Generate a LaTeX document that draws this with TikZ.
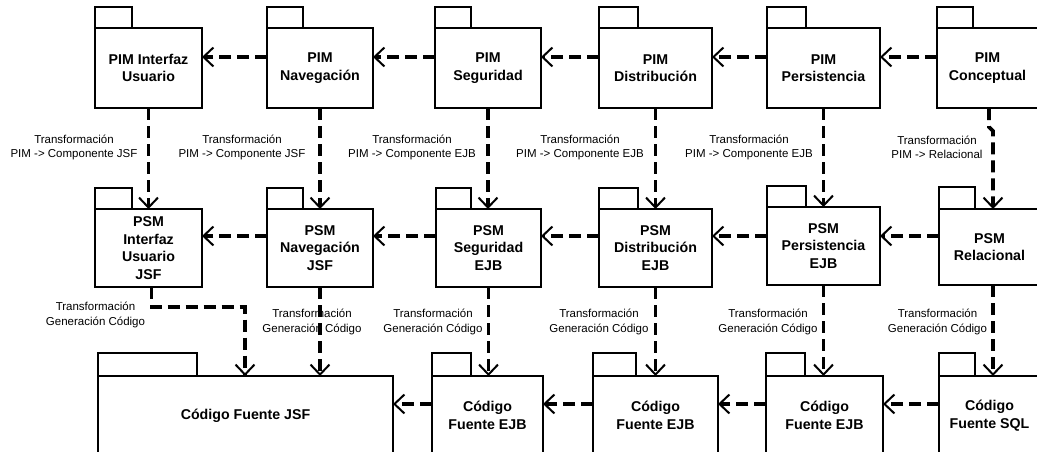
\documentclass[tikz,border=0pt]{standalone}
\usepackage{fontspec}
\setmainfont{Liberation Sans}
\usetikzlibrary{arrows.meta}
\newcommand{\pkgbox}[8]{%
  \pgfmathsetmacro{\pkX}{(#2+#4)/2}%
  \pgfmathsetmacro{\pkY}{(#3+#5)/2}%
  \pgfmathsetmacro{\pkW}{#4-#2}%
  \pgfmathsetmacro{\pkH}{#5-#3}%
  \node[pkg, minimum width=\pkW pt, minimum height=\pkH pt] (#1) at (\pkX,\pkY) {#8};%
  \draw[pkgline] (#1.north west) rectangle ++(#6,-#7);%
}
\begin{document}
\begin{tikzpicture}[x=1pt,y=-1pt,
  pkg/.style={draw=black, line width=1.6pt, inner sep=0pt, outer sep=0pt,
    align=center, font=\bfseries\fontsize{14.2}{17.5}\selectfont},
  pkgline/.style={draw=black, line width=1.6pt},
  dep/.style={line width=3.8pt, dash pattern=on 12pt off 6pt,
    -{Straight Barb[length=10pt,width=19pt,line width=2pt]}},
  lbl/.style={align=center, inner sep=0pt, font=\fontsize{11.5}{14.5}\selectfont}]
\useasboundingbox (0,0) rectangle (1037,452);
\fill[white] (0,0) rectangle (1037,452);
\clip (0,0) rectangle (1037,452);
\coordinate (r1) at (0,57);
\coordinate (r2) at (0,236);
\coordinate (r3) at (0,404);
\coordinate (cA) at (245,0);
\coordinate (c6) at (993,0);
% row 1
\pkgbox{pim1}{95}{28}{202}{108}{37}{21}{PIM Interfaz\\Usuario}
\pkgbox{pim2}{267}{28}{373}{108}{36}{21}{PIM\\Navegación}
\pkgbox{pim3}{435}{28}{541}{108}{36}{21}{PIM\\Seguridad}
\pkgbox{pim4}{599}{28}{712}{108}{39}{21}{PIM\\Distribución}
\pkgbox{pim5}{767}{28}{880}{108}{39}{21}{PIM\\Persistencia}
\pkgbox{pim6}{937}{28}{1038}{108}{36}{21}{PIM\\Conceptual}
% row 2
\pkgbox{psm1}{95}{209}{202}{287}{37}{21}{PSM\\Interfaz\\Usuario\\JSF}
\pkgbox{psm2}{267}{209}{373}{287}{36}{21}{PSM\\Navegación\\JSF}
\pkgbox{psm3}{436}{209}{541}{287}{35}{21}{PSM\\Seguridad\\EJB}
\pkgbox{psm4}{599}{209}{712}{287}{39}{21}{PSM\\Distribución\\EJB}
\pkgbox{psm5}{767}{207}{880}{285}{39}{21}{PSM\\Persistencia\\EJB}
\pkgbox{psm6}{939}{209}{1040}{285}{36}{22}{PSM\\Relacional}
% row 3
\pkgbox{src1}{98}{376}{393}{455}{99}{23}{Código Fuente JSF}
\pkgbox{src2}{432}{376}{543}{455}{39}{23}{Código\\Fuente EJB}
\pkgbox{src3}{593}{376}{718}{455}{43}{23}{Código\\Fuente EJB}
\pkgbox{src4}{766}{376}{883}{455}{39}{23}{Código\\Fuente EJB}
\pkgbox{src5}{939}{376}{1040}{455}{36}{23}{Código\\Fuente SQL}
% labels
\node[lbl] (l1) at (74,147.5) {Transformación\\PIM -> Componente JSF};
\node[lbl] (l2) at (242,147.5) {Transformación\\PIM -> Componente JSF};
\node[lbl] (l3) at (412,147.5) {Transformación\\PIM -> Componente EJB};
\node[lbl] (l4) at (580,147.5) {Transformación\\PIM -> Componente EJB};
\node[lbl] (l5) at (749,147.5) {Transformación\\PIM -> Componente EJB};
\node[lbl] (l6) at (937,147.5) {Transformación\\PIM -> Relacional};
\node[lbl] (g1) at (95.5,315) {Transformación\\Generación Código};
\node[lbl] (g2) at (312,322) {Transformación\\Generación Código};
\node[lbl] (g3) at (433,322) {Transformación\\Generación Código};
\node[lbl] (g4) at (599,322) {Transformación\\Generación Código};
\node[lbl] (g5) at (768,322) {Transformación\\Generación Código};
\node[lbl] (g6) at (937.5,322) {Transformación\\Generación Código};
% horizontal dependencies
\draw[dep] (pim2.west |- r1) -- (pim1.east |- r1);
\draw[dep] (pim3.west |- r1) -- (pim2.east |- r1);
\draw[dep] (pim4.west |- r1) -- (pim3.east |- r1);
\draw[dep] (pim5.west |- r1) -- (pim4.east |- r1);
\draw[dep] (pim6.west |- r1) -- (pim5.east |- r1);
\draw[dep] (psm2.west |- r2) -- (psm1.east |- r2);
\draw[dep] (psm3.west |- r2) -- (psm2.east |- r2);
\draw[dep] (psm4.west |- r2) -- (psm3.east |- r2);
\draw[dep] (psm5.west |- r2) -- (psm4.east |- r2);
\draw[dep] (psm6.west |- r2) -- (psm5.east |- r2);
\draw[dep] (src2.west |- r3) -- (src1.east |- r3);
\draw[dep] (src3.west |- r3) -- (src2.east |- r3);
\draw[dep] (src4.west |- r3) -- (src3.east |- r3);
\draw[dep] (src5.west |- r3) -- (src4.east |- r3);
% vertical dependencies PIM -> PSM
\draw[dep] (pim1.south) -- (pim1.south |- psm1.north);
\draw[dep] (pim2.south) -- (pim2.south |- psm2.north);
\draw[dep] (pim3.south) -- (pim3.south |- psm3.north);
\draw[dep] (pim4.south) -- (pim4.south |- psm4.north);
\draw[dep] (pim5.south) -- (pim5.south |- psm5.north);
\draw[dep] ([xshift=1.5pt]pim6.south) -- ++(0,19) -- ++(4,4) -- (c6 |- psm6.north);
% vertical dependencies PSM -> code
\draw[dep] ([xshift=3pt]psm1.south) -- ++(0,20) -| (cA |- src1.north);
\draw[dep] (psm2.south) -- (psm2.south |- src1.north);
\draw[dep] (psm3.south) -- (psm3.south |- src2.north);
\draw[dep] (psm4.south) -- (psm4.south |- src3.north);
\draw[dep] (psm5.south) -- (psm5.south |- src4.north);
\draw[dep] (c6 |- psm6.south) -- (c6 |- src5.north);
\end{tikzpicture}
\end{document}
